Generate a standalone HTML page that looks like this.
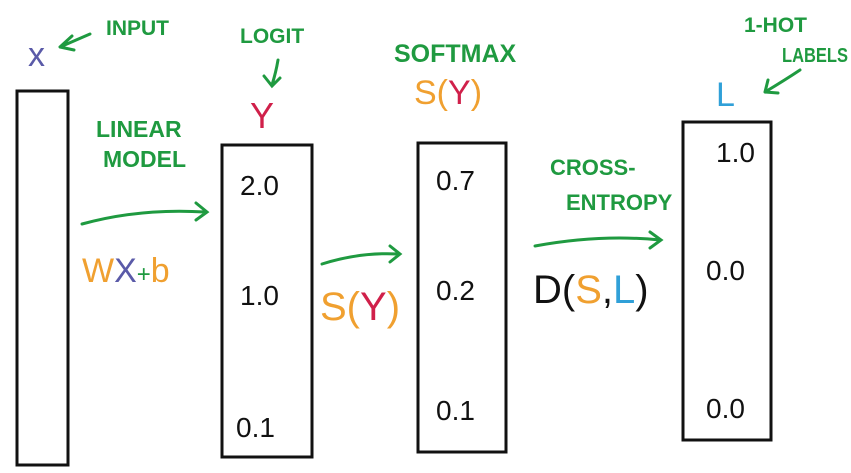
<!DOCTYPE html>
<html><head><style>body{margin:0;background:#fff}svg{display:block}text{font-family:"Liberation Sans",sans-serif}</style></head><body>
<svg width="851" height="473" viewBox="0 0 851 473" xmlns="http://www.w3.org/2000/svg">
<g fill="none" stroke="#111" stroke-width="3">
<rect x="17" y="91" width="51" height="374"/>
<rect x="222" y="145" width="90" height="312"/>
<rect x="418" y="143" width="88" height="309"/>
<rect x="683" y="122" width="88" height="318"/>
</g>
<g fill="none" stroke="#1f9a40" stroke-width="3" stroke-linecap="round">
<path d="M82 224 Q140 208 205 212 M196 203 L207 212 L196 220"/>
<path d="M322 264 Q360 252 398 254 M390 246 L400 254 L390 262"/>
<path d="M535 246 Q600 234 660 240 M650 232 L661 240 L650 248"/>
<path d="M60 47 L90 34 M60 47 L72 36 M60 47 L74 50"/>
<path d="M278 60 Q276 72 272 85 M264 76 L272 86 L280 78"/>
<path d="M765 92 Q785 80 800 70 M765 92 L768 80 M765 92 L778 93"/>
</g>
<g font-size="21" fill="#1f9a40" font-weight="bold">
<text x="106" y="35">INPUT</text>
<text x="240" y="43">LOGIT</text>
<text x="394" y="62" font-size="25">SOFTMAX</text>
<text x="744" y="32">1-HOT</text>
<text x="782" y="62" font-size="20" textLength="66" lengthAdjust="spacingAndGlyphs">LABELS</text>
<text x="96" y="137" font-size="23">LINEAR</text>
<text x="103" y="167" font-size="23">MODEL</text>
<text x="550" y="175" font-size="22">CROSS-</text>
<text x="566" y="210" font-size="22">ENTROPY</text>
</g>
<text x="28" y="66" font-size="34" fill="#5a5aa8">x</text>
<text x="250" y="128" font-size="36" fill="#d0204a">Y</text>
<text x="414" y="104" font-size="34" fill="#f0a030">S(<tspan fill="#d0204a">Y</tspan>)</text>
<text x="716" y="106" font-size="34" fill="#30a0d8">L</text>
<text x="82" y="282" font-size="34" fill="#f0a030">W<tspan fill="#5a5aa8">X</tspan><tspan font-size="24" fill="#1f9a40">+</tspan>b</text>
<text x="320" y="320" font-size="40" fill="#f0a030">S(<tspan fill="#d0204a">Y</tspan>)</text>
<text x="533" y="303" font-size="40" fill="#111">D(<tspan fill="#f0a030">S</tspan>,<tspan fill="#30a0d8">L</tspan>)</text>
<g font-size="28" fill="#111">
<text x="240" y="195">2.0</text>
<text x="240" y="305">1.0</text>
<text x="236" y="437">0.1</text>
<text x="436" y="190">0.7</text>
<text x="436" y="300">0.2</text>
<text x="436" y="420">0.1</text>
<text x="716" y="162">1.0</text>
<text x="706" y="280">0.0</text>
<text x="706" y="418">0.0</text>
</g>
</svg>
</body></html>
